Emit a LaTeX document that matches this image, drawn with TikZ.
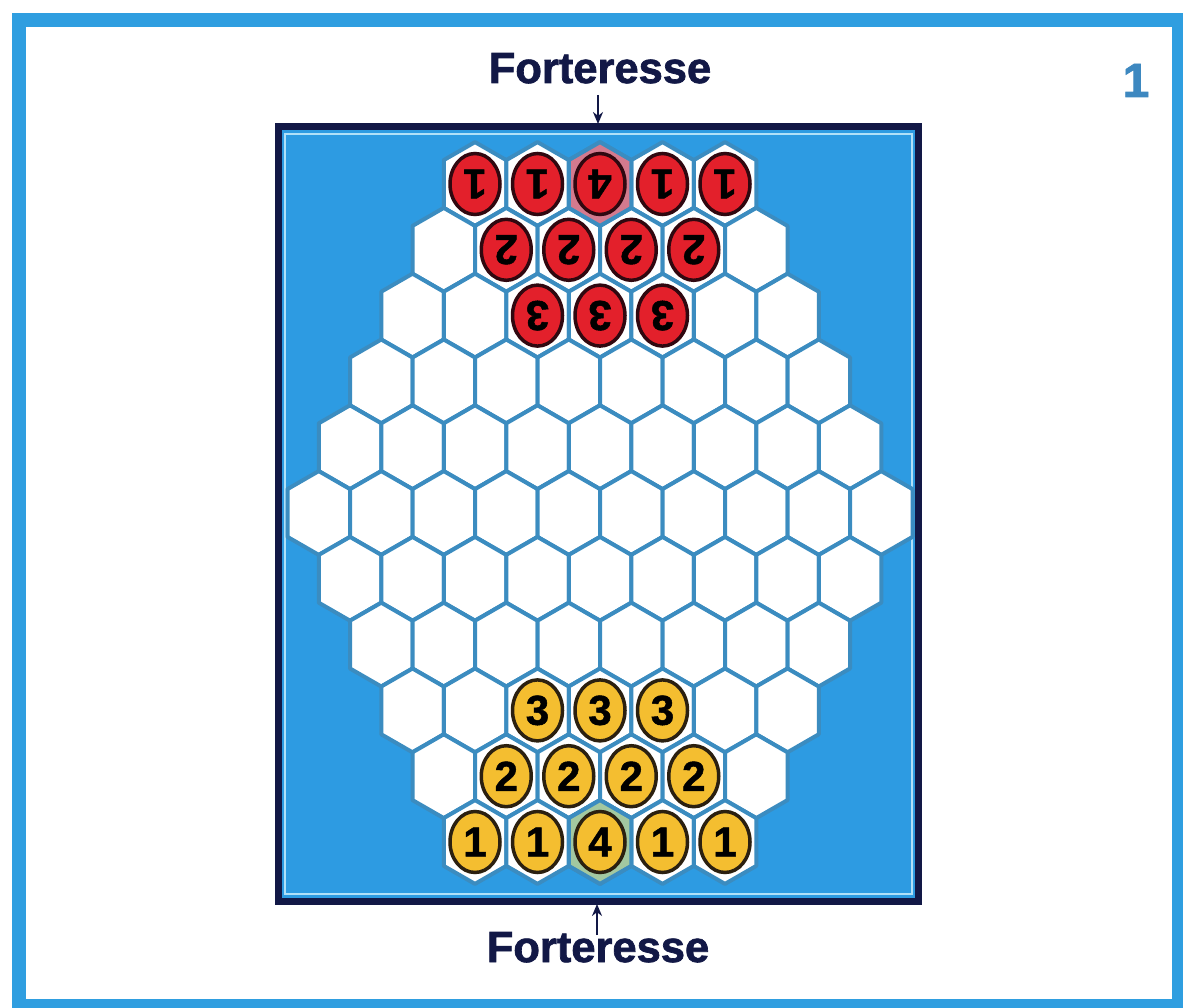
\documentclass[tikz,border=0pt]{standalone}
\usepackage{fontspec}
\setmainfont{Liberation Sans}
\newfontfamily\heavyfont{Liberation Sans Bold}[FakeBold=1.6]
\newfontfamily\digitfont{Liberation Sans Bold}[FakeBold=1.2]
\usetikzlibrary{arrows.meta,shapes.geometric}
\definecolor{frameblue}{HTML}{2F9EE0}
\definecolor{boardblue}{HTML}{2D9BE2}
\definecolor{navy}{HTML}{121846}
\definecolor{gridline}{HTML}{3B8CC0}
\definecolor{lightline}{HTML}{B0E0F8}
\definecolor{redfill}{HTML}{E3202B}
\definecolor{redline}{HTML}{300810}
\definecolor{yelfill}{HTML}{F4BE30}
\definecolor{yelline}{HTML}{2B2010}
\definecolor{numblue}{HTML}{3D88C0}
\definecolor{forthexred}{HTML}{D47A8E}
\definecolor{forthexgreen}{HTML}{A3C8A0}
\newcommand\myhex[3]{\draw[hexcell,fill=#3] (#1,#2) +(0,41.9) -- +(31.25,23.9) -- +(31.25,-23.9) -- +(0,-41.9) -- +(-31.25,-23.9) -- +(-31.25,23.9) -- cycle;}
\tikzset{
  hexcell/.style={draw=gridline, line width=4pt, line join=round},
  piece/.style={ellipse, minimum width=50pt, minimum height=61pt, inner sep=0pt, line width=3.5pt, font=\fontsize{42}{42}\selectfont\digitfont, text=black},
  redpiece/.style={piece, fill=redfill, draw=redline, rotate=180},
  yelpiece/.style={piece, fill=yelfill, draw=yelline},
  fortlabel/.style={font=\fontsize{43.5}{43.5}\selectfont\heavyfont, text=navy, anchor=base, inner sep=0pt},
  farrow/.style={draw=navy, line width=2.2pt, -{Stealth[length=12pt,width=10pt]}}
}
\begin{document}
\begin{tikzpicture}[x=1pt,y=-1pt]
\useasboundingbox (0,0) rectangle (1183,1008);
\fill[white] (0,0) rectangle (1183,1008);
% outer frame
\draw[frameblue, line width=14pt] (18.5,20.5) rectangle (1179,1006);
% board
\draw[navy, fill=boardblue, line width=7pt] (278.5,126.5) rectangle (918.5,901.5);
\draw[lightline, line width=2pt] (285,134) rectangle (912,894);
% hex grid
\foreach \r in {0,...,10} {
  \pgfmathtruncatemacro\n{5+\r-2*max(\r-5,0)}
  \pgfmathsetmacro\yy{184+65.8*\r}
  \foreach \i in {1,...,\n} {
    \pgfmathsetmacro\xx{600+(\i-1-(\n-1)/2)*62.5}
    \myhex{\xx}{\yy}{white}
  }
}
\myhex{600}{184}{forthexred}
\myhex{600}{842}{forthexgreen}
% red pieces
\node[redpiece] (ra1) at (475,184) {1};
\node[redpiece] (ra2) at (537.5,184) {1};
\node[redpiece] (ra3) at (600,184) {4};
\node[redpiece] (ra4) at (662.5,184) {1};
\node[redpiece] (ra5) at (725,184) {1};
\node[redpiece] (rb1) at (506.25,249.8) {2};
\node[redpiece] (rb2) at (568.75,249.8) {2};
\node[redpiece] (rb3) at (631.25,249.8) {2};
\node[redpiece] (rb4) at (693.75,249.8) {2};
\node[redpiece] (rc1) at (537.5,315.6) {3};
\node[redpiece] (rc2) at (600,315.6) {3};
\node[redpiece] (rc3) at (662.5,315.6) {3};
% yellow pieces
\node[yelpiece] (yc1) at (537.5,710.4) {3};
\node[yelpiece] (yc2) at (600,710.4) {3};
\node[yelpiece] (yc3) at (662.5,710.4) {3};
\node[yelpiece] (yb1) at (506.25,776.2) {2};
\node[yelpiece] (yb2) at (568.75,776.2) {2};
\node[yelpiece] (yb3) at (631.25,776.2) {2};
\node[yelpiece] (yb4) at (693.75,776.2) {2};
\node[yelpiece] (ya1) at (475,842) {1};
\node[yelpiece] (ya2) at (537.5,842) {1};
\node[yelpiece] (ya3) at (600,842) {4};
\node[yelpiece] (ya4) at (662.5,842) {1};
\node[yelpiece] (ya5) at (725,842) {1};
% labels
\node[fortlabel] (ftop) at (600,83) {Forteresse};
\node[fortlabel] (fbot) at (598,962) {Forteresse};
\node[font=\fontsize{48}{48}\selectfont\heavyfont, text=numblue, anchor=base, inner sep=0pt] (pagenum) at (1136,97) {1};
% arrows
\coordinate (ttail) at (598,95);
\coordinate (ttip) at (598,124);
\coordinate (btail) at (597,935);
\coordinate (btip) at (597,904);
\draw[farrow] (ttail) -- (ttip);
\draw[farrow] (btail) -- (btip);
\end{tikzpicture}
\end{document}
